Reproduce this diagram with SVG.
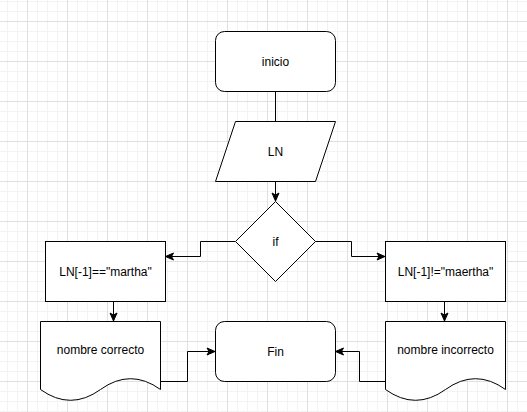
<svg xmlns="http://www.w3.org/2000/svg" width="527" height="412" viewBox="0 0 527 412">
  <style>
    .node { fill: #ffffff; stroke: #000000; stroke-width: 1; }
    .edge { fill: none; stroke: #000000; stroke-width: 1; }
    .arrow { fill: none; stroke: #000000; stroke-width: 1; marker-end: url(#arr); }
    text { font-family: "Liberation Sans", Arial, sans-serif; font-size: 12px; fill: #000000; text-anchor: middle; dominant-baseline: central; }
  </style>
  <defs>
    <pattern id="grid" patternUnits="userSpaceOnUse" x="27" y="21" width="40" height="40">
      <path d="M10.5,0 V40 M20.5,0 V40 M30.5,0 V40 M0,10.5 H40 M0,20.5 H40 M0,30.5 H40" stroke="#f3f3f3" stroke-width="1" fill="none"/>
      <path d="M0.5,0 V40 M0,0.5 H40" stroke="#e0e0e0" stroke-width="1" fill="none"/>
    </pattern>
    <marker id="arr" markerUnits="userSpaceOnUse" markerWidth="9" markerHeight="8" refX="8" refY="4" orient="auto" overflow="visible">
      <path d="M0,0.5 L8,4 L0,7.5 L2,4 Z" fill="#000000" stroke="#000000" stroke-width="1" stroke-linejoin="miter"/>
    </marker>
  </defs>
  <rect x="0" y="0" width="527" height="412" fill="#ffffff"/>
  <rect x="0" y="0" width="527" height="412" fill="url(#grid)"/>

  <g id="connectors">
    <path class="edge" d="M275.5,91.5 V121"/>
    <path class="arrow" d="M275.5,181.5 V201"/>
    <path class="arrow" d="M235,241.5 H200.5 V256.5 H165.5"/>
    <path class="arrow" d="M315,241.5 H351.5 V256.5 H385"/>
    <path class="arrow" d="M113.5,301.5 V321"/>
    <path class="arrow" d="M444.5,301.5 V321"/>
    <path class="arrow" d="M160,381.5 H187.5 V351.5 H215"/>
    <path class="arrow" d="M385,381.5 H359.5 V351.5 H335.5"/>
  </g>

  <g id="inicio">
    <rect class="node" x="215.5" y="31.5" width="120" height="60" rx="9" ry="9"/>
    <text x="275.5" y="61.5">inicio</text>
  </g>
  <g id="ln">
    <path class="node" d="M235.5,121.5 H335.5 L315.5,181.5 H215.5 Z"/>
    <text x="275.5" y="151.5">LN</text>
  </g>
  <g id="if">
    <path class="node" d="M275.5,201.5 L315.5,241.5 L275.5,281.5 L235.5,241.5 Z"/>
    <text x="275.5" y="241.5">if</text>
  </g>
  <g id="cond-left">
    <rect class="node" x="45.5" y="241.5" width="120" height="60"/>
    <text x="105.5" y="271.5">LN[-1]=="martha"</text>
  </g>
  <g id="cond-right">
    <rect class="node" x="385.5" y="241.5" width="120" height="60"/>
    <text x="445.5" y="271.5">LN[-1]!="maertha"</text>
  </g>
  <g id="doc-left">
    <path class="node" d="M40.5,321.5 H160.5 V389.5 Q130.5,367.9 100.5,389.5 Q70.5,411.1 40.5,389.5 Z"/>
    <text x="100.5" y="349.5">nombre correcto</text>
  </g>
  <g id="doc-right">
    <path class="node" d="M385.5,321.5 H505.5 V389.5 Q475.5,367.9 445.5,389.5 Q415.5,411.1 385.5,389.5 Z"/>
    <text x="445.5" y="349.5">nombre incorrecto</text>
  </g>
  <g id="fin">
    <rect class="node" x="215.5" y="321.5" width="120" height="60" rx="9" ry="9"/>
    <text x="275.5" y="351.5">Fin</text>
  </g>
</svg>
